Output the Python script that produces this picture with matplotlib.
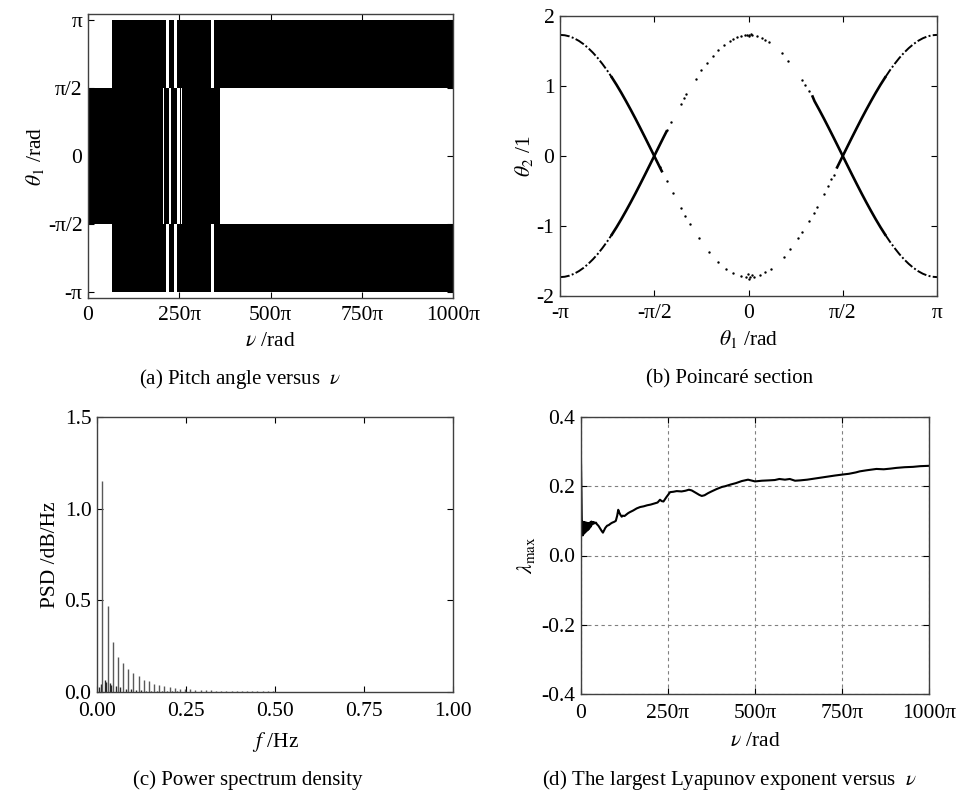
import matplotlib
matplotlib.use("Agg")
import matplotlib.pyplot as plt

plt.rcParams['font.family'] = ['Liberation Serif', 'DejaVu Serif']
plt.rcParams['mathtext.fontset'] = 'stix'
plt.rcParams['axes.unicode_minus'] = False
plt.rcParams['font.size'] = 15.5

# ---------------- (a) pitch angle envelope (nu and theta in units of pi) ----------------
a_nu_start = [0, 208, 228, 252, 257,   65, 222, 244, 345,   65, 222, 244, 345]
a_nu_end   = [205, 222, 244, 255, 362, 214, 236, 336, 1000, 214, 236, 336, 1000]
a_th_low   = [-0.5, -0.5, -0.5, -0.5, -0.5, 0.5, 0.5, 0.5, 0.5, -1.0, -1.0, -1.0, -1.0]
a_th_high  = [0.5, 0.5, 0.5, 0.5, 0.5, 1.0, 1.0, 1.0, 1.0, -0.5, -0.5, -0.5, -0.5]

nu_ticks = [0, 250, 500, 750, 1000]
nu_labels = ['0', '250π', '500π', '750π', '1000π']
theta_ticks = [-1, -0.5, 0, 0.5, 1]
theta_labels = ['-π', '-π/2', '0', 'π/2', 'π']

# ---------------- (b) Poincare section (theta1 in units of pi) ----------------
# dense arms running into the separatrix crossings
b_left_x = [-1.0, -0.975, -0.95, -0.925, -0.9, -0.875, -0.85, -0.825, -0.8, -0.775,
            -0.75, -0.725, -0.7, -0.675, -0.65, -0.625, -0.6, -0.575, -0.55, -0.525,
            -0.5, -0.475, -0.46]
b_left_down = [1.73, 1.725, 1.709, 1.682, 1.645, 1.598, 1.541, 1.475, 1.400, 1.315,
               1.223, 1.123, 1.017, 0.904, 0.785, 0.662, 0.535, 0.404, 0.271, 0.136,
               0.0, -0.136, -0.217]
a_left_x = [-1.0, -0.975, -0.95, -0.925, -0.9, -0.875, -0.85, -0.825, -0.8, -0.775,
            -0.75, -0.725, -0.7, -0.675, -0.65, -0.625, -0.6, -0.575, -0.55, -0.525,
            -0.5, -0.475, -0.45, -0.435]
a_left_up = [-1.73, -1.725, -1.709, -1.682, -1.645, -1.598, -1.541, -1.475, -1.400, -1.315,
             -1.223, -1.123, -1.017, -0.904, -0.785, -0.662, -0.535, -0.404, -0.271, -0.136,
             0.0, 0.136, 0.271, 0.350]
a_right_x = [0.34, 0.35, 0.375, 0.4, 0.425, 0.45, 0.475, 0.5, 0.525, 0.55, 0.575, 0.6,
             0.625, 0.65, 0.675, 0.7, 0.725, 0.75, 0.775, 0.8, 0.825, 0.85, 0.875, 0.9,
             0.925, 0.95, 0.975, 1.0]
a_right_down = [0.85, 0.785, 0.662, 0.535, 0.404, 0.271, 0.136, 0.0, -0.136, -0.271,
                -0.404, -0.535, -0.662, -0.785, -0.904, -1.017, -1.123, -1.223, -1.315,
                -1.400, -1.475, -1.541, -1.598, -1.645, -1.682, -1.709, -1.725, -1.73]
b_right_x = [0.47, 0.475, 0.5, 0.525, 0.55, 0.575, 0.6, 0.625, 0.65, 0.675, 0.7, 0.725,
             0.75, 0.775, 0.8, 0.825, 0.85, 0.875, 0.9, 0.925, 0.95, 0.975, 1.0]
b_right_up = [-0.163, -0.136, 0.0, 0.136, 0.271, 0.404, 0.535, 0.662, 0.785, 0.904,
              1.017, 1.123, 1.223, 1.315, 1.400, 1.475, 1.541, 1.598, 1.645, 1.682,
              1.709, 1.725, 1.73]

# scattered section points on the inner arcs
b_dots_x = [-0.43, -0.41, -0.36, -0.34, -0.33, -0.28, -0.25, -0.22, -0.19, -0.16,
            -0.13, -0.10, -0.08, -0.06, -0.04, -0.02, -0.01, 0.0, 0.005, 0.015, 0.02,
            0.045, 0.07, 0.09, 0.11, 0.177, 0.212, 0.283, 0.30, 0.32,
            -0.47, -0.434, -0.40, -0.36, -0.336, -0.31, -0.265, -0.21, -0.16, -0.12,
            -0.08, -0.04, -0.015, -0.005, 0.0, 0.01, 0.02, 0.03, 0.06, 0.09, 0.12,
            0.186, 0.221, 0.265, 0.283, 0.319, 0.345, 0.363, 0.398, 0.42, 0.44, 0.451]
b_dots_y = [0.377, 0.483, 0.737, 0.834, 0.881, 1.103, 1.223, 1.333, 1.431, 1.516,
            1.588, 1.645, 1.676, 1.699, 1.716, 1.727, 1.735, 1.73, 1.72, 1.74, 1.727,
            1.713, 1.688, 1.661, 1.628, 1.468, 1.361, 1.089, 1.017, 0.927,
            -0.163, -0.357, -0.535, -0.737, -0.852, -0.972, -1.166, -1.367, -1.516, -1.609,
            -1.676, -1.716, -1.728, -1.69, -1.75, -1.729, -1.70, -1.722, -1.699, -1.661, -1.609,
            -1.443, -1.331, -1.166, -1.089, -0.931, -0.815, -0.722, -0.549, -0.430, -0.324, -0.265]

# ---------------- (c) power spectrum density ----------------
psd_f = [0.015, 0.030, 0.044, 0.059, 0.074, 0.088, 0.102, 0.117, 0.131, 0.146, 0.160,
         0.175, 0.189, 0.204, 0.218, 0.233, 0.247, 0.262, 0.276, 0.291, 0.305, 0.320,
         0.334, 0.349, 0.363, 0.378, 0.392, 0.407, 0.421, 0.436, 0.450, 0.465, 0.479, 0.494]
psd_val = [1.153, 0.467, 0.273, 0.189, 0.158, 0.125, 0.104, 0.085, 0.067, 0.058, 0.044,
           0.036, 0.031, 0.027, 0.022, 0.019, 0.017, 0.015, 0.013, 0.012, 0.010, 0.009,
           0.008, 0.007, 0.006, 0.006, 0.005, 0.005, 0.004, 0.004, 0.004, 0.003, 0.003, 0.003]
psd_f2 = [0.006, 0.010, 0.022, 0.025, 0.037, 0.040, 0.052, 0.066, 0.081, 0.095, 0.110,
          0.124, 0.139, 0.153, 0.168, 0.182, 0.197, 0.211, 0.226, 0.240]
psd_val2 = [0.03, 0.045, 0.065, 0.055, 0.05, 0.04, 0.032, 0.025, 0.018, 0.014, 0.011,
            0.009, 0.007, 0.006, 0.005, 0.004, 0.004, 0.003, 0.003, 0.002]

# ---------------- (d) largest Lyapunov exponent (nu in units of pi) ----------------
lyap_nu = [0, 1, 2, 3, 4, 5, 6, 7, 8, 9, 10, 11, 12, 13, 14, 15, 16, 17, 18, 19, 20,
           21, 22, 23, 24, 25, 26, 27, 28, 29, 30, 32, 34, 36, 38, 40, 43, 46, 50, 55,
           60, 63, 66, 70, 75, 80, 85, 90, 95, 100, 104, 107, 110, 113, 117, 120, 125,
           130, 135, 140, 150, 160, 170, 180, 190, 200, 210, 220, 227, 232, 237, 245,
           256, 265, 275, 289, 300, 310, 318, 330, 340, 347, 355, 365, 375, 390, 405,
           414, 430, 445, 462, 480, 500, 520, 540, 557, 570, 586, 600, 615, 630, 650,
           670, 690, 710, 730, 753, 770, 790, 801, 820, 849, 870, 890, 906, 930, 954,
           975, 1000]
lyap_val = [0.27, 0.20, 0.12, 0.065, 0.098, 0.058, 0.095, 0.062, 0.097, 0.064, 0.094,
            0.066, 0.096, 0.068, 0.092, 0.07, 0.095, 0.072, 0.091, 0.074, 0.094, 0.075,
            0.09, 0.078, 0.093, 0.08, 0.095, 0.082, 0.097, 0.085, 0.098, 0.09, 0.097,
            0.092, 0.096, 0.093, 0.095, 0.09, 0.086, 0.078, 0.07, 0.066, 0.072, 0.08,
            0.086, 0.088, 0.092, 0.095, 0.097, 0.1, 0.115, 0.132, 0.124, 0.118, 0.112,
            0.115, 0.114, 0.118, 0.122, 0.125, 0.13, 0.136, 0.14, 0.142, 0.145, 0.147,
            0.15, 0.153, 0.161, 0.157, 0.156, 0.168, 0.183, 0.184, 0.186, 0.185, 0.187,
            0.19, 0.188, 0.181, 0.175, 0.172, 0.174, 0.18, 0.185, 0.192, 0.198, 0.2,
            0.205, 0.209, 0.215, 0.219, 0.214, 0.216, 0.217, 0.218, 0.221, 0.219, 0.221,
            0.216, 0.217, 0.219, 0.222, 0.225, 0.228, 0.231, 0.234, 0.236, 0.24, 0.243,
            0.246, 0.25, 0.249, 0.251, 0.253, 0.255, 0.256, 0.258, 0.259]

W, H = 962, 793
fig = plt.figure(figsize=(W / 100, H / 100), dpi=100)


def px_axes(left, top, right, bottom):
    return fig.add_axes([left / W, 1 - bottom / H, (right - left) / W, (bottom - top) / H])


def style(ax, xpad=4):
    ax.tick_params(direction='in', top=True, right=True, length=4, width=0.8,
                   labelsize=15.5, pad=4)
    ax.tick_params(axis='x', pad=xpad)
    for s in ax.spines.values():
        s.set_linewidth(1.0)
        s.set_color('0.25')


# (a)
ax = px_axes(88, 14, 453, 298)
ax.bar(a_nu_start, [h - l for h, l in zip(a_th_high, a_th_low)],
       width=[e - s for e, s in zip(a_nu_end, a_nu_start)], bottom=a_th_low,
       align='edge', color='black', linewidth=0)
ax.set_xlim(0, 1000)
ax.set_ylim(-1.045, 1.045)
ax.set_xticks(nu_ticks, nu_labels)
ax.set_yticks(theta_ticks, theta_labels)
ax.set_xlabel(r'$\nu$ /rad', labelpad=5)
ax.set_ylabel(r'$\theta_1$ /rad', labelpad=1)
style(ax, xpad=6)

# (b)
ax = px_axes(560, 16, 937, 296)
far, near = dict(ls=(0, (5, 1.2, 1, 1.2)), lw=1.4, color='black'), dict(ls='-', lw=1.9, color='black')
ax.plot(b_left_x[:12], b_left_down[:12], **far)
ax.plot(b_left_x[11:], b_left_down[11:], **near)
ax.plot(a_left_x[:12], a_left_up[:12], **far)
ax.plot(a_left_x[11:], a_left_up[11:], **near)
ax.plot(a_right_x[:17], a_right_down[:17], **near)
ax.plot(a_right_x[16:], a_right_down[16:], **far)
ax.plot(b_right_x[:12], b_right_up[:12], **near)
ax.plot(b_right_x[11:], b_right_up[11:], **far)
ax.scatter(b_dots_x, b_dots_y, s=3, color='black', linewidths=0)
ax.set_xlim(-1, 1)
ax.set_ylim(-2, 2)
ax.set_xticks(theta_ticks, theta_labels)
ax.set_yticks([-2, -1, 0, 1, 2], ['-2', '-1', '0', '1', '2'])
ax.set_xlabel(r'$\theta_1$ /rad', labelpad=3)
ax.set_ylabel(r'$\theta_2$ /1', labelpad=1)
style(ax, xpad=6)

# (c)
ax = px_axes(97, 417, 453, 692)
ax.vlines(psd_f2, 0, psd_val2, color='0.15', lw=1.0)
ax.vlines(psd_f, 0, psd_val, color='0.35', lw=1.0)
ax.set_xlim(0, 1)
ax.set_ylim(0, 1.5)
ax.set_xticks([0, 0.25, 0.5, 0.75, 1.0], ['0.00', '0.25', '0.50', '0.75', '1.00'])
ax.set_yticks([0, 0.5, 1.0, 1.5], ['0.0', '0.5', '1.0', '1.5'])
ax.set_xlabel(r'$f$ /Hz', labelpad=7)
ax.set_ylabel('PSD /dB/Hz', labelpad=3)
style(ax, xpad=7)

# (d)
ax = px_axes(581, 417, 929, 694)
ax.grid(True, ls='--', color='0.5', lw=0.8, dashes=(3, 3))
ax.plot(lyap_nu, lyap_val, color='black', lw=1.5)
ax.set_xlim(0, 1000)
ax.set_ylim(-0.4, 0.4)
ax.set_xticks(nu_ticks, nu_labels)
ax.set_yticks([-0.4, -0.2, 0, 0.2, 0.4], ['-0.4', '-0.2', '0.0', '0.2', '0.4'])
ax.set_xlabel(r'$\nu$ /rad', labelpad=7)
ax.set_ylabel(r'$\lambda_{\rm max}$', labelpad=3)
style(ax, xpad=7)

# sub-figure captions
cap = dict(ha='center', va='center', fontsize=15)
fig.text(240 / W, 1 - 379 / H, r'(a) Pitch angle versus  $\nu$', **cap)
fig.text(730 / W, 1 - 379 / H, '(b) Poincaré section', **cap)
fig.text(248 / W, 1 - 780 / H, '(c) Power spectrum density', **cap)
fig.text(730 / W, 1 - 780 / H, r'(d) The largest Lyapunov exponent versus  $\nu$', **cap)

fig.savefig('out.png', dpi=100, facecolor='white')
